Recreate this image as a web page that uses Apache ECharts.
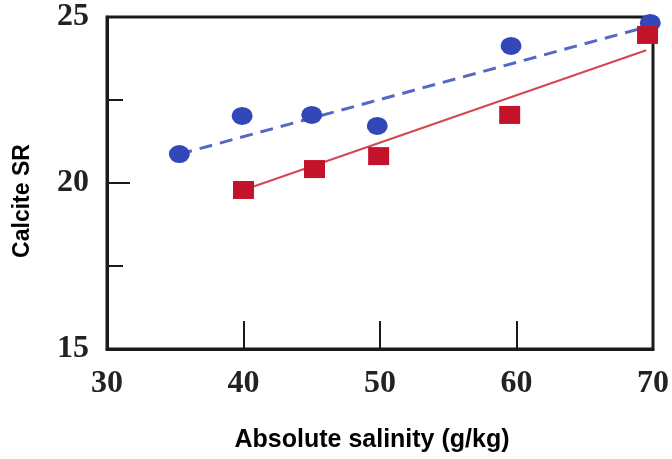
<!DOCTYPE html>
<html>
<head>
<meta charset="utf-8">
<script src="https://cdn.jsdelivr.net/npm/echarts@6/dist/echarts.min.js"></script>
<style>html,body{margin:0;padding:0;background:#fff;}#c{width:672px;height:459px;}</style>
</head>
<body>
<div id="c"></div>
<script>
// Data
const blueX = [35.3, 39.9, 45.0, 49.8, 59.6, 69.8];
const blueY = [20.87, 22.02, 22.05, 21.72, 24.13, 24.82];
const redX = [40.0, 45.2, 49.9, 59.5, 69.6];
const redY = [19.79, 20.42, 20.81, 22.05, 24.46];
// fitted trend line endpoints
const blueFitX = [35.3, 69.7];
const blueFitY = [20.87, 24.72];
const redFitX = [40.0, 69.5];
const redFitY = [19.79, 24.0];
const xTicks = [30, 40, 50, 60, 70];
const yTicks = [15, 20, 25];
const xTitle = 'Absolute salinity (g/kg)';
const yTitle = 'Calcite SR';

const zip = (a, b) => a.map((v, i) => [v, b[i]]);
const chart = echarts.init(document.getElementById('c'));
const serif = '"Liberation Serif", "Times New Roman", serif';
chart.setOption({
  animation: false,
  grid: { left: 107, right: 13, top: 17, bottom: 110, show: true, borderColor: '#1a1a1a', borderWidth: 3, backgroundColor: 'transparent' },
  xAxis: {
    type: 'value', min: xTicks[0], max: xTicks[xTicks.length - 1], interval: 10,
    axisLine: { show: true, lineStyle: { color: '#1a1a1a', width: 3 } },
    axisTick: { show: true, inside: true, length: 28, lineStyle: { color: '#1a1a1a', width: 2 } },
    splitLine: { show: false },
    axisLabel: { show: true, margin: 19, fontFamily: serif, fontWeight: 'bold', fontSize: 32, color: '#222' }
  },
  yAxis: {
    type: 'value', min: yTicks[0], max: yTicks[yTicks.length - 1], interval: 5,
    axisLine: { show: true, lineStyle: { color: '#1a1a1a', width: 3 } },
    axisTick: { show: true, inside: true, length: 23, lineStyle: { color: '#1a1a1a', width: 2 } },
    minorTick: { show: true, splitNumber: 2, length: 16, lineStyle: { color: '#1a1a1a', width: 2 } },
    splitLine: { show: false },
    minorSplitLine: { show: false },
    axisLabel: { show: true, margin: 18, fontFamily: serif, fontWeight: 'bold', fontSize: 32, color: '#222' }
  },
  graphic: [
    { type: 'text', x: 372, y: 440, style: { text: xTitle, font: 'bold 25px "Liberation Sans", Arial, sans-serif', fill: '#000', align: 'center', verticalAlign: 'middle' } },
    { type: 'text', x: 23, y: 201, rotation: Math.PI / 2, style: { text: yTitle, font: 'bold 23px "Liberation Sans", Arial, sans-serif', fill: '#000', align: 'center', verticalAlign: 'middle' } }
  ],
  series: [
    { type: 'line', data: zip(blueFitX, blueFitY), showSymbol: false, symbol: 'none', lineStyle: { color: '#5468c4', width: 3, type: [13, 8] }, z: 2 },
    { type: 'line', data: zip(redFitX, redFitY), showSymbol: false, symbol: 'none', lineStyle: { color: '#d4474f', width: 2 }, z: 2 },
    { type: 'scatter', data: zip(blueX, blueY), symbol: 'circle', symbolSize: [21, 18], itemStyle: { color: '#3247b8', opacity: 1 }, z: 3 },
    { type: 'scatter', data: zip(redX, redY), symbol: 'rect', symbolSize: [21, 18], itemStyle: { color: '#c3132b', opacity: 1 }, z: 4 }
  ]
});
</script>
</body>
</html>
